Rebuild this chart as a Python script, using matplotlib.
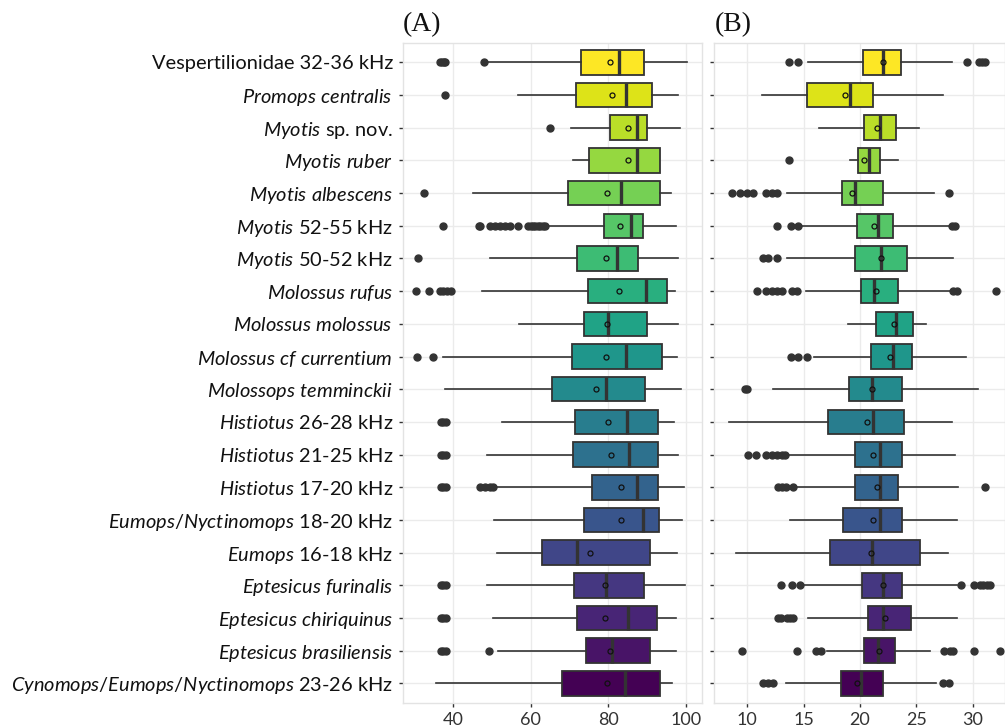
import numpy as np
import matplotlib
matplotlib.use("Agg")
import matplotlib.pyplot as plt

plt.rcParams['font.family'] = ['Lato', 'DejaVu Sans']
plt.rcParams['mathtext.fontset'] = 'custom'
plt.rcParams['mathtext.rm'] = 'Lato'
plt.rcParams['mathtext.it'] = 'Lato:italic'

# groups, top to bottom
labels = [
    "Vespertilionidae 32-36 kHz",
    r"$\mathit{Promops\ centralis}$",
    r"$\mathit{Myotis}$ sp. nov.",
    r"$\mathit{Myotis\ ruber}$",
    r"$\mathit{Myotis\ albescens}$",
    r"$\mathit{Myotis}$ 52-55 kHz",
    r"$\mathit{Myotis}$ 50-52 kHz",
    r"$\mathit{Molossus\ rufus}$",
    r"$\mathit{Molossus\ molossus}$",
    r"$\mathit{Molossus\ cf\ currentium}$",
    r"$\mathit{Molossops\ temminckii}$",
    r"$\mathit{Histiotus}$ 26-28 kHz",
    r"$\mathit{Histiotus}$ 21-25 kHz",
    r"$\mathit{Histiotus}$ 17-20 kHz",
    r"$\mathit{Eumops/Nyctinomops}$ 18-20 kHz",
    r"$\mathit{Eumops}$ 16-18 kHz",
    r"$\mathit{Eptesicus\ furinalis}$",
    r"$\mathit{Eptesicus\ chiriquinus}$",
    r"$\mathit{Eptesicus\ brasiliensis}$",
    r"$\mathit{Cynomops/Eumops/Nyctinomops}$ 23-26 kHz",
]

# panel (A)
a_lo = [49.1, 56.8, 70.3, 70.8, 45.3, 64.1, 49.5, 47.6, 57.0, 37.5,
        38.1, 52.7, 48.9, 51.2, 50.5, 51.4, 48.7, 50.4, 51.6, 35.6]
a_q1 = [72.9, 71.8, 80.3, 75.0, 69.6, 79.0, 72.0, 74.8, 73.7, 70.6,
        65.5, 71.4, 70.8, 75.7, 73.8, 62.9, 71.1, 72.0, 74.3, 68.1]
a_med = [82.7, 84.6, 87.3, 87.3, 83.3, 85.8, 82.1, 89.8, 79.8, 84.6,
         79.5, 84.7, 85.2, 87.3, 88.9, 72.0, 79.5, 85.1, 81.0, 84.2]
a_q3 = [89.2, 91.3, 90.0, 93.2, 93.4, 89.0, 87.6, 95.2, 90.0, 93.9,
        89.4, 92.8, 92.7, 92.8, 93.0, 90.8, 89.1, 92.4, 90.6, 93.2]
a_hi = [100.2, 98.0, 98.3, 93.4, 96.2, 97.3, 98.0, 97.1, 98.0, 97.7,
        98.8, 96.9, 97.8, 99.5, 98.9, 97.7, 99.8, 97.3, 97.4, 96.3]
a_mean = [80.5, 81.0, 85.0, 85.0, 79.6, 82.9, 79.5, 82.8, 79.7, 79.3,
          76.8, 79.9, 80.6, 83.3, 83.2, 75.4, 79.1, 79.2, 80.4, 79.6]
a_out = [
    [36.7, 37.2, 37.6, 38.1, 48.0],
    [37.9],
    [65.1],
    [],
    [32.5],
    [37.5, 46.6, 46.9, 49.5, 50.8, 52.1, 53.4, 54.7, 56.8, 59.4, 60.0, 60.6,
     61.2, 61.9, 62.5, 63.2, 63.6],
    [31.1],
    [30.5, 33.8, 36.7, 37.5, 38.4, 39.4],
    [],
    [30.7, 34.8],
    [],
    [36.9, 37.5, 38.2],
    [36.9, 37.5, 38.2],
    [36.9, 37.5, 38.2, 46.9, 48.2, 49.5, 50.4],
    [],
    [],
    [36.9, 37.5, 38.2],
    [36.9, 37.5, 38.2],
    [36.9, 37.5, 38.2, 49.3],
    [],
]

# panel (B)
b_lo = [15.4, 11.3, 16.4, 19.1, 13.5, 14.7, 13.5, 15.2, 18.9, 15.9,
        12.25, 8.35, 13.5, 14.4, 13.8, 8.97, 15.0, 15.4, 17.1, 13.4]
b_q1 = [20.3, 15.3, 20.4, 19.8, 18.4, 19.7, 19.57, 20.1, 21.4, 21.0,
        19.04, 17.2, 19.55, 19.6, 18.5, 17.3, 20.15, 20.7, 20.4, 18.3]
b_med = [22.06, 19.1, 21.8, 20.8, 19.6, 21.6, 21.9, 21.26, 23.2, 22.9,
         21.08, 21.17, 21.8, 21.8, 21.8, 21.04, 22.07, 22.07, 21.57, 20.06]
b_q3 = [23.6, 21.2, 23.2, 21.8, 22.06, 22.9, 24.2, 23.4, 24.7, 24.6,
        23.7, 23.95, 23.7, 23.4, 23.7, 25.3, 23.7, 24.5, 23.1, 22.0]
b_hi = [28.2, 27.4, 25.2, 23.4, 26.6, 28.1, 28.3, 28.0, 25.9, 29.4,
        30.5, 28.2, 28.4, 28.7, 28.6, 27.85, 28.6, 28.6, 26.2, 26.76]
b_mean = [22.0, 18.7, 21.5, 20.4, 19.25, 21.26, 21.9, 21.4, 22.98, 22.7,
          21.1, 20.6, 21.2, 21.5, 21.17, 21.0, 22.0, 22.25, 21.7, 19.76]
b_out = [
    [13.67, 14.47, 29.5, 30.6, 30.8, 31.1],
    [],
    [],
    [13.7],
    [8.67, 9.35, 9.95, 10.5, 11.7, 12.2, 12.6, 27.9],
    [12.6, 13.85, 14.47, 28.2, 28.4],
    [11.37, 11.86, 12.6],
    [10.83, 11.7, 12.15, 12.6, 13.05, 14.0, 14.4, 28.3, 28.6, 32.1],
    [],
    [13.85, 14.47, 15.27],
    [9.8, 10.0],
    [],
    [10.1, 10.8, 11.7, 12.2, 12.6, 13.05, 13.35],
    [12.7, 13.05, 13.4, 14.1, 31.1],
    [],
    [],
    [13.0, 14.0, 14.7, 29.0, 30.1, 30.67, 30.96, 31.26, 31.56],
    [12.7, 13.0, 13.5, 13.8, 14.1],
    [9.5, 14.4, 16.1, 16.5, 27.5, 28.0, 28.3, 30.1, 32.4],
    [11.4, 11.85, 12.25, 27.4, 27.9],
]

n = len(labels)
pos = np.arange(n, 0, -1)  # first group on top
colors = plt.cm.viridis(np.linspace(1, 0, n))

fig = plt.figure(figsize=(10.05, 7.28), dpi=100)
axA = fig.add_axes([0.4007, 0.0343, 0.2975, 0.907])
axB = fig.add_axes([0.7107, 0.0343, 0.2893, 0.907])


def draw(ax, lo, q1, med, q3, hi, mean, out):
    stats = []
    for i in range(n):
        stats.append(dict(whislo=lo[i], q1=q1[i], med=med[i], q3=q3[i],
                          whishi=hi[i], mean=mean[i], fliers=out[i]))
    bp = ax.bxp(stats, positions=pos, widths=0.75, orientation='horizontal',
                patch_artist=True, showcaps=False, showmeans=True,
                boxprops=dict(edgecolor='#333333', linewidth=1.3),
                medianprops=dict(color='#333333', linewidth=2.4),
                whiskerprops=dict(color='#333333', linewidth=1.2),
                flierprops=dict(marker='o', markerfacecolor='#333333',
                                markeredgecolor='#333333', markersize=5),
                meanprops=dict(marker='o', markerfacecolor='none',
                               markeredgecolor='#111111', markersize=3.6,
                               markeredgewidth=0.9))
    for patch, c in zip(bp['boxes'], colors):
        patch.set_facecolor(c)
    ax.set_ylim(0.4, n + 0.6)
    ax.set_yticks(pos)
    ax.grid(True, color='#EBEBEB', linewidth=1.0)
    ax.set_axisbelow(True)
    for s in ax.spines.values():
        s.set_color('#E3E3E3')
        s.set_linewidth(1.0)
    ax.tick_params(axis='both', length=3, width=1, color='#333333',
                   labelsize=13, labelcolor='#333333')


draw(axA, a_lo, a_q1, a_med, a_q3, a_hi, a_mean, a_out)
axA.set_xlim(27.1, 104)
axA.set_xticks([40, 60, 80, 100])
axA.set_yticklabels(labels, fontsize=14.4, color='#111111')
axA.tick_params(axis='y', pad=4)

draw(axB, b_lo, b_q1, b_med, b_q3, b_hi, b_mean, b_out)
axB.set_xlim(7.07, 32.87)
axB.set_xticks([10, 15, 20, 25, 30])
axB.set_yticklabels([])

for ax, t in [(axA, "(A)"), (axB, "(B)")]:
    ax.text(0.0, 1.008, t, transform=ax.transAxes, ha='left', va='bottom',
            fontsize=20, family='Liberation Serif', color='#111111')

fig.savefig("out.png", dpi=100)
